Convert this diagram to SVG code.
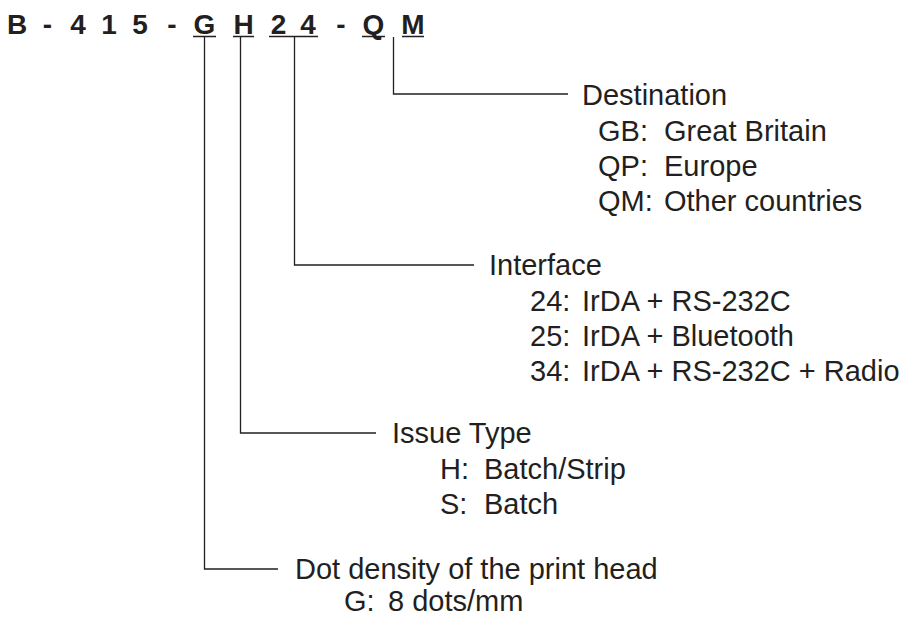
<svg xmlns="http://www.w3.org/2000/svg" width="906" height="617" viewBox="0 0 906 617">
<style>
.hd{font-family:"Liberation Sans",Arial,sans-serif;font-weight:bold;font-size:28px;fill:#231f20;text-anchor:middle}
.t{font-family:"Liberation Sans",Arial,sans-serif;font-size:29px;fill:#231f20}
.ln{fill:none;stroke:#231f20;stroke-width:1.3}
.ul{fill:none;stroke:#231f20;stroke-width:1.6}
</style>
<rect width="906" height="617" fill="#ffffff"/>
<g id="model">
<text class="hd" y="34"><tspan x="17">B</tspan><tspan x="47.5">-</tspan><tspan x="78">4</tspan><tspan x="109">1</tspan><tspan x="140">5</tspan><tspan x="172">-</tspan><tspan x="204.5">G</tspan><tspan x="243.5">H</tspan><tspan x="278.5">2</tspan><tspan x="308">4</tspan><tspan x="341">-</tspan><tspan x="373.5">Q</tspan><tspan x="413">M</tspan></text>
<path class="ul" d="M193 36.5H216M233 36.5H254M269 36.5H318M362 36.5H385M402 36.5H424"/>
</g>
<g id="connectors">
<path class="ln" d="M393.5 37V94H568"/>
<path class="ln" d="M294.5 37V265H474"/>
<path class="ln" d="M240.5 37V433H376"/>
<path class="ln" d="M204.5 37V569H278"/>
</g>
<g id="destination">
<text class="t" x="582" y="105">Destination</text>
<text class="t" x="598" y="141">GB:</text><text class="t" x="664" y="141">Great Britain</text>
<text class="t" x="598" y="176">QP:</text><text class="t" x="664" y="176">Europe</text>
<text class="t" x="598" y="211">QM:</text><text class="t" x="664" y="211">Other countries</text>
</g>
<g id="interface">
<text class="t" x="489" y="275">Interface</text>
<text class="t" x="530" y="311">24:</text><text class="t" x="582" y="311">IrDA + RS-232C</text>
<text class="t" x="530" y="346">25:</text><text class="t" x="582" y="346">IrDA + Bluetooth</text>
<text class="t" x="530" y="381">34:</text><text class="t" x="582" y="381">IrDA + RS-232C + Radio</text>
</g>
<g id="issue-type">
<text class="t" x="392" y="443">Issue Type</text>
<text class="t" x="440" y="479">H:</text><text class="t" x="484" y="479">Batch/Strip</text>
<text class="t" x="440" y="514">S:</text><text class="t" x="484" y="514">Batch</text>
</g>
<g id="dot-density">
<text class="t" x="295" y="579">Dot density of the print head</text>
<text class="t" x="344" y="611">G:</text><text class="t" x="388" y="611">8 dots/mm</text>
</g>
</svg>
